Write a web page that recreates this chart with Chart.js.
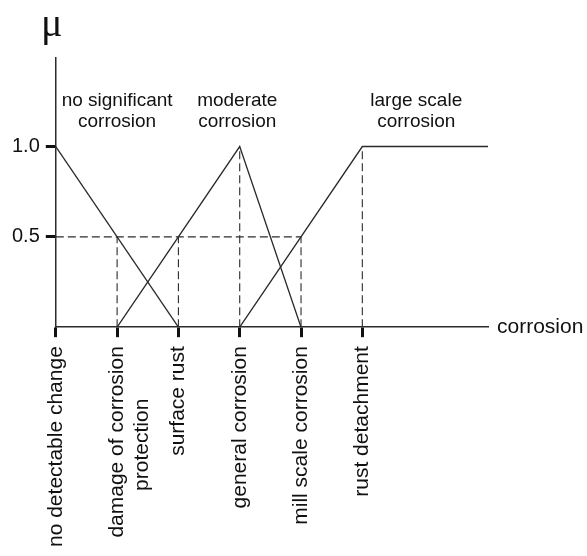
<!DOCTYPE html>
<html>
<head>
<meta charset="utf-8">
<script src="https://cdn.jsdelivr.net/npm/chart.js@4/dist/chart.umd.min.js"></script>
<style>
  html,body{margin:0;padding:0;background:#fff;}
  #wrap{width:587px;height:556px;}
</style>
</head>
<body>
<div id="wrap"><canvas id="c"></canvas></div>
<script>
// stages of corrosion on the x axis (tick positions 0..5)
const stages = ['no detectable change', ['damage of corrosion','protection'], 'surface rust',
                'general corrosion', 'mill scale corrosion', 'rust detachment'];
const muTicks = [0.5, 1.0];
const xEnd = 7.05;                       // where the axis / last plateau stops

// membership functions
const noSigX = [0, 2],        noSigY = [1, 0];
const moderateX = [1, 3, 4],  moderateY = [0, 1, 0];
const largeX = [3, 5, xEnd],  largeY = [0, 1, 1];

// dashed guides: horizontal at 0.5, verticals up to the membership value
const guideLevel = 0.5, guideLevelEnd = 4;
const guideX = [1, 2, 3, 4, 5];
const guideTop = [0.5, 0.5, 1, 0.5, 1];

// region captions
const regionNames = [['no significant','corrosion'], ['moderate','corrosion'], ['large scale','corrosion']];
const regionX = [1, 2.96, 5.88];

const INK = '#2b2b2b';
const FONT = '"Liberation Sans", Arial, sans-serif';
const TICK_SIZE = 21;
const pts = (xs, ys) => xs.map((x, i) => ({x, y: ys[i]}));

const solid = {borderColor: INK, borderWidth: 1.3, pointRadius: 0, fill: false, tension: 0};
const dashed = {...solid, borderWidth: 1.1, borderDash: [8, 4]};

const guideSets = [{...dashed, data: pts([0, guideLevelEnd], [guideLevel, guideLevel])}]
  .concat(guideX.map((x, i) => ({...dashed, data: pts([x, x], [0, guideTop[i]])})));

// rotated labels are right aligned by chart.js; pad short lines so they sit centred
const mctx = document.createElement('canvas').getContext('2d');
mctx.font = TICK_SIZE + 'px ' + FONT;
function centreLines(lines) {
  if (!Array.isArray(lines)) return lines;
  const w = Math.max(...lines.map(l => mctx.measureText(l).width));
  const sp = mctx.measureText(' ').width;
  return lines.map(l => l + ' '.repeat(Math.round((w - mctx.measureText(l).width) / 2 / sp)));
}

const overlay = {
  id: 'overlay',
  afterDraw(chart) {
    const {ctx, scales: {x, y}, chartArea: a} = chart;
    ctx.save();
    ctx.fillStyle = '#111';
    ctx.textAlign = 'center';
    ctx.textBaseline = 'middle';
    ctx.font = '19px ' + FONT;
    regionNames.forEach((lines, i) => {
      lines.forEach((t, j) => ctx.fillText(t, x.getPixelForValue(regionX[i]), 101 + j * 21));
    });
    ctx.textAlign = 'left';
    ctx.font = '21px ' + FONT;
    ctx.fillText('corrosion', a.right + 9, y.getPixelForValue(0));
    ctx.textAlign = 'center';
    ctx.font = '40px "Liberation Serif", "Times New Roman", serif';
    ctx.fillText('\u03bc', a.left - 4, 25);
    ctx.restore();
  }
};

new Chart(document.getElementById('c'), {
  type: 'line',
  data: {
    datasets: [
      {...solid, data: pts(noSigX, noSigY)},
      {...solid, data: pts(moderateX, moderateY)},
      {...solid, data: pts(largeX, largeY)}
    ].concat(guideSets)
  },
  options: {
    responsive: true,
    maintainAspectRatio: false,
    animation: false,
    events: [],
    layout: {padding: {top: 58, right: 99, left: 6, bottom: 0}},
    plugins: {legend: {display: false}, tooltip: {enabled: false}},
    scales: {
      x: {
        type: 'linear', min: 0, max: xEnd,
        afterBuildTicks: s => { s.ticks = stages.map((_, i) => ({value: i})); },
        border: {display: true, color: INK, width: 1.5},
        grid: {drawOnChartArea: false, drawTicks: true, tickLength: 10, tickWidth: 3, tickColor: '#111'},
        ticks: {
          autoSkip: false, minRotation: 90, maxRotation: 90, padding: 9,
          color: '#111', font: {family: FONT, size: TICK_SIZE},
          callback: v => centreLines(stages[v] ?? '')
        }
      },
      y: {
        type: 'linear', min: 0, max: 1.49,
        afterBuildTicks: s => { s.ticks = muTicks.map(v => ({value: v})); },
        border: {display: true, color: INK, width: 1.5},
        grid: {drawOnChartArea: false, drawTicks: true, tickLength: 10, tickWidth: 3, tickColor: '#111'},
        ticks: {
          padding: 6, color: '#111',
          font: {family: FONT, size: 20},
          callback: v => v.toFixed(1)
        }
      }
    }
  },
  plugins: [overlay]
});
</script>
</body>
</html>
